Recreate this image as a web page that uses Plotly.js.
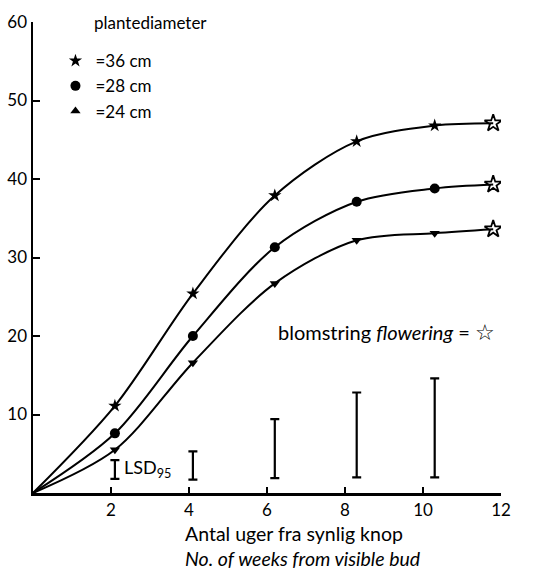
<!DOCTYPE html>
<html>
<head>
<meta charset="utf-8">
<script src="https://cdn.plot.ly/plotly-3.0.1.min.js"></script>
<style>
html,body{margin:0;padding:0;background:#fff;}
#chart{width:538px;height:570px;}
</style>
</head>
<body>
<div id="chart"></div>
<script>
const weeks = [2.1, 4.1, 6.2, 8.3, 10.3];
// flowering time (open star)
const flowerWeek = 11.8;

const d36 = [11.1, 25.4, 37.9, 44.8, 46.8];
const d28 = [7.6, 20.0, 31.3, 37.1, 38.8];
const d24 = [5.5, 16.6, 26.7, 32.2, 33.1];
const flower36 = 47.1;
const flower28 = 39.3;
const flower24 = 33.6;

// LSD95 bars
const lsdWeeks = [2.1, 4.1, 6.2, 8.3, 10.3];
const lsdLow = [1.8, 1.7, 1.9, 2.0, 2.0];
const lsdHigh = [4.2, 5.3, 9.4, 12.8, 14.6];

const xTicks = [2, 4, 6, 8, 10, 12];
const yTicks = [10, 20, 30, 40, 50, 60];

const FONT = "Lato, 'Open Sans', 'DejaVu Sans', sans-serif";
const BLACK = '#000';

function curve(vals, fl) {
  return {
    x: [0].concat(weeks, [flowerWeek]),
    y: [0].concat(vals, [fl]),
    mode: 'lines', type: 'scatter',
    line: {color: BLACK, width: 2, shape: 'spline', smoothing: 0.9},
    showlegend: false, hoverinfo: 'skip'
  };
}
function pts(vals, sym, size) {
  return {
    x: weeks, y: vals, mode: 'markers', type: 'scatter',
    marker: {symbol: sym, size: size, color: BLACK, line: {width: 0}},
    showlegend: false
  };
}
function legendItem(name, sym, size, grp) {
  return {
    x: [null], y: [null], mode: 'markers', type: 'scatter', name: name,
    legendgroup: grp,
    marker: {symbol: sym, size: size, color: BLACK, line: {width: 0}}
  };
}

const lsdMid = lsdLow.map((l, i) => (l + lsdHigh[i]) / 2);
const lsdHalf = lsdLow.map((l, i) => (lsdHigh[i] - l) / 2);

const traces = [
  curve(d36, flower36), curve(d28, flower28), curve(d24, flower24),
  pts(d36, 'star', 10), pts(d28, 'circle', 10), pts(d24, 'triangle-down', 9),
  {
    x: [flowerWeek, flowerWeek, flowerWeek], y: [flower36, flower28, flower24],
    mode: 'markers', type: 'scatter', showlegend: false,
    marker: {symbol: 'star-open', size: 13, color: BLACK, line: {width: 1.8, color: BLACK}}
  },
  {
    x: lsdWeeks, y: lsdMid, mode: 'markers', type: 'scatter', showlegend: false,
    marker: {size: 1, opacity: 0},
    error_y: {type: 'data', array: lsdHalf, visible: true, color: BLACK, thickness: 2.2, width: 4.5}
  },
  legendItem('=36 cm', 'star', 10, 'a'),
  legendItem('=28 cm', 'circle', 10, 'b'),
  legendItem('=24 cm', 'triangle-up', 9, 'c')
];

const layout = {
  width: 538, height: 570,
  margin: {l: 33, r: 37, t: 22, b: 76.5, pad: 0},
  paper_bgcolor: '#fff', plot_bgcolor: '#fff',
  font: {family: FONT, size: 17, color: BLACK},
  showlegend: true,
  legend: {
    x: 0.048, y: 0.955, xanchor: 'left', yanchor: 'top',
    bgcolor: 'rgba(0,0,0,0)', borderwidth: 0,
    font: {family: FONT, size: 17, color: BLACK},
    tracegroupgap: 0, traceorder: 'grouped'
  },
  xaxis: {
    range: [0, 12], tickvals: xTicks, ticktext: xTicks.map(String),
    showline: true, linecolor: BLACK, linewidth: 2.5, mirror: false,
    ticks: 'inside', ticklen: 6, tickwidth: 2, tickcolor: BLACK,
    showgrid: false, zeroline: false, fixedrange: true,
    tickfont: {family: FONT, size: 17, color: BLACK}
  },
  yaxis: {
    range: [0, 60], tickvals: yTicks, ticktext: yTicks.map(String),
    showline: true, linecolor: BLACK, linewidth: 2.5,
    ticks: 'inside', ticklen: 7, tickwidth: 2, tickcolor: BLACK,
    showgrid: false, zeroline: false, fixedrange: true,
    tickfont: {family: FONT, size: 17, color: BLACK}
  },
  annotations: [
    {xref: 'paper', yref: 'paper', x: 0.126, y: 1.0, xanchor: 'left', yanchor: 'middle',
     text: 'plantediameter', showarrow: false, font: {family: FONT, size: 17, color: BLACK}},
    {xref: 'paper', yref: 'paper', x: 0.52, y: 0.343, xanchor: 'left', yanchor: 'middle',
     text: 'blomstring <i>flowering</i> = <span style="font-size:22px">☆</span>', showarrow: false,
     font: {family: FONT, size: 20, color: BLACK}},
    {xref: 'paper', yref: 'paper', x: 0.19, y: 0.052, xanchor: 'left', yanchor: 'middle',
     text: 'LSD<sub>95</sub>', showarrow: false, font: {family: FONT, size: 18, color: BLACK}},
    {xref: 'paper', yref: 'paper', x: 0.3205, y: -0.1124, xanchor: 'left', yanchor: 'middle',
     text: 'Antal uger fra synlig knop<br><i>No. of weeks from visible bud</i>', showarrow: false,
     align: 'left', font: {family: FONT, size: 19.5, color: BLACK}}
  ]
};

Plotly.newPlot('chart', traces, layout, {displayModeBar: false, staticPlot: true});
</script>
</body>
</html>
